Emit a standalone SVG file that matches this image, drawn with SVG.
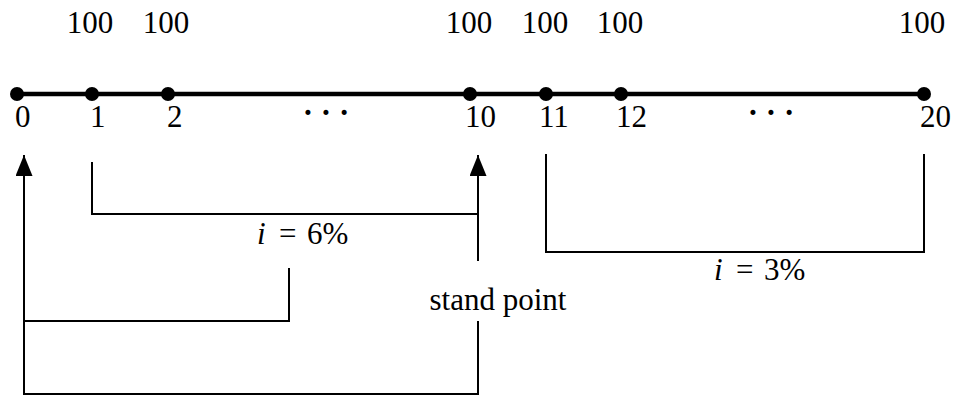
<svg xmlns="http://www.w3.org/2000/svg" width="955" height="396" viewBox="0 0 955 396">
<defs>
<style>
text{font-family:"Liberation Serif","Times New Roman",serif;font-size:31px;fill:#000}
.ln{stroke:#000;stroke-width:2;fill:none}
.axis{stroke:#000;stroke-width:4.5;fill:none}
.dot{fill:#000}
</style>
<marker id="ah" viewBox="0 0 21 17" refX="21" refY="8.5" markerWidth="21" markerHeight="17" markerUnits="userSpaceOnUse" orient="auto">
<path d="M0,0 L21,8.5 L0,17 z" fill="#000"/>
</marker>
</defs>
<g id="timeline">
<line class="axis" x1="17" y1="94" x2="924" y2="94"/>
</g>
<g id="node-0"><circle class="dot" cx="17" cy="94" r="7"/><text x="15" y="127">0</text></g>
<g id="node-1"><circle class="dot" cx="92" cy="94" r="7"/><text x="90" y="127">1</text><text x="90" y="33" text-anchor="middle">100</text></g>
<g id="node-2"><circle class="dot" cx="168" cy="94" r="7"/><text x="167" y="127">2</text><text x="166" y="33" text-anchor="middle">100</text></g>
<g id="dots-1"><text x="326" y="123" text-anchor="middle" font-weight="bold">· · ·</text></g>
<g id="node-10"><circle class="dot" cx="470" cy="94" r="7"/><text x="465" y="127">10</text><text x="469" y="33" text-anchor="middle">100</text></g>
<g id="node-11"><circle class="dot" cx="546" cy="94" r="7"/><text x="539" y="127">11</text><text x="545" y="33" text-anchor="middle">100</text></g>
<g id="node-12"><circle class="dot" cx="621" cy="94" r="7"/><text x="616" y="127">12</text><text x="620" y="33" text-anchor="middle">100</text></g>
<g id="dots-2"><text x="771" y="123" text-anchor="middle" font-weight="bold">· · ·</text></g>
<g id="node-20"><circle class="dot" cx="924" cy="94" r="7"/><text x="920" y="127">20</text><text x="922" y="33" text-anchor="middle">100</text></g>
<g id="connectors">
<polyline class="ln" points="92,162 92,214 478,214"/>
<line class="ln" x1="478" y1="394" x2="478" y2="321"/>
<line class="ln" x1="478" y1="261" x2="478" y2="155" marker-end="url(#ah)"/>
<line class="ln" x1="24" y1="394" x2="24" y2="155" marker-end="url(#ah)"/>
<line class="ln" x1="23" y1="394" x2="479" y2="394"/>
<polyline class="ln" points="24,321 289,321 289,268"/>
<polyline class="ln" points="546,154 546,252 924,252 924,154"/>
</g>
<g id="label-6">
<text y="244"><tspan x="257" font-style="italic">i</tspan><tspan x="279">=</tspan><tspan x="307">6%</tspan></text>
</g>
<g id="label-3">
<text y="280"><tspan x="714" font-style="italic">i</tspan><tspan x="736">=</tspan><tspan x="764">3%</tspan></text>
</g>
<g id="label-stand">
<text x="498" y="310" text-anchor="middle">stand point</text>
</g>
</svg>
